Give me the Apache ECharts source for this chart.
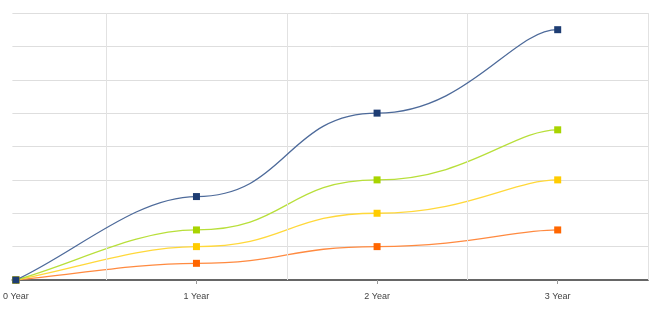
<!DOCTYPE html>
<html><head><meta charset="utf-8">
<script src="https://cdn.jsdelivr.net/npm/echarts@6/dist/echarts.min.js"></script>
<style>html,body{margin:0;padding:0;background:#fff}#c{width:654px;height:312px}</style>
</head><body><div id="c"></div>
<script>
const years = [0, 1, 2, 3];
const yearLabels = ['0 Year', '1 Year', '2 Year', '3 Year'];
const blueVals = [0, 2.5, 5, 7.5];
const greenVals = [0, 1.5, 3, 4.5];
const yellowVals = [0, 1, 2, 3];
const orangeVals = [0, 0.5, 1, 1.5];
const vGrid = [0.5, 1.5, 2.5, 3.5];

const chart = echarts.init(document.getElementById('c'));
function curve(name, vals, lineColor, z) {
  const data = years.map((x, i) => [x, vals[i]]);
  const last = data.length - 1;
  return {
    name, type: 'custom', z, silent: true,
    data,
    encode: { x: 0, y: 1 },
    renderItem: function (params, api) {
      const i = params.dataIndex;
      if (i === 0) return null;
      const p0 = api.coord(data[i - 1]);
      const p1 = api.coord(data[i]);
      const dx = p1[0] - p0[0];
      const dy = p1[1] - p0[1];
      let c1x, c1y, c2x, c2y;
      if (i === 1) {
        c1x = p0[0] + dx / 3; c1y = p0[1] + dy / 3;
        c2x = p1[0] - dx / 3; c2y = p1[1];
      } else if (i === last) {
        c1x = p0[0] + dx * 0.5; c1y = p0[1];
        c2x = p1[0] - dx * 0.25; c2y = p1[1];
      } else {
        c1x = p0[0] + dx * 0.5; c1y = p0[1];
        c2x = p1[0] - dx * 0.5; c2y = p1[1];
      }
      return {
        type: 'bezierCurve',
        shape: { x1: p0[0], y1: p0[1], x2: p1[0], y2: p1[1],
                 cpx1: c1x, cpy1: c1y, cpx2: c2x, cpy2: c2y },
        style: { stroke: lineColor, lineWidth: 1.3, fill: null }
      };
    }
  };
}
function marks(name, vals, color, z) {
  return {
    name: name + 'M', type: 'scatter', z, silent: true,
    data: years.map((x, i) => [x, vals[i]]),
    symbol: 'rect', symbolSize: 7,
    itemStyle: { color: color, opacity: 1 },
    emphasis: { disabled: true }
  };
}
chart.setOption({
  animation: false,
  grid: { left: 11, right: 6, top: 13, bottom: 32 },
  xAxis: {
    type: 'value', min: -0.019, max: 3.5,
    axisLine: { show: true, lineStyle: { color: '#666', width: 2 } },
    axisTick: { show: true, customValues: years, length: 4, lineStyle: { color: '#999' } },
    axisLabel: { customValues: years, formatter: v => yearLabels[Math.round(v)], color: '#444', fontSize: 9, fontFamily: 'Liberation Sans', margin: 12 },
    splitLine: { show: false }
  },
  yAxis: {
    type: 'value', min: 0, max: 8, interval: 1,
    axisLine: { show: false }, axisTick: { show: false }, axisLabel: { show: false },
    splitLine: { lineStyle: { color: '#dedede', width: 1 } }
  },
  series: [
    {
      type: 'line', data: [], silent: true,
      markLine: {
        silent: true, symbol: 'none', label: { show: false },
        lineStyle: { color: '#e2e2e2', width: 1, type: 'solid' },
        data: vGrid.map(v => ({ xAxis: v }))
      }
    },
    curve('orange', orangeVals, '#ff8a40', 2),
    curve('yellow', yellowVals, '#ffd83a', 3),
    curve('green', greenVals, '#b8df3a', 4),
    curve('blue', blueVals, '#4d6a9a', 5),
    marks('orange', orangeVals, '#ff6600', 6),
    marks('yellow', yellowVals, '#ffcc00', 7),
    marks('green', greenVals, '#a8d400', 8),
    marks('blue', blueVals, '#1e3d73', 9)
  ]
});
</script></body></html>
